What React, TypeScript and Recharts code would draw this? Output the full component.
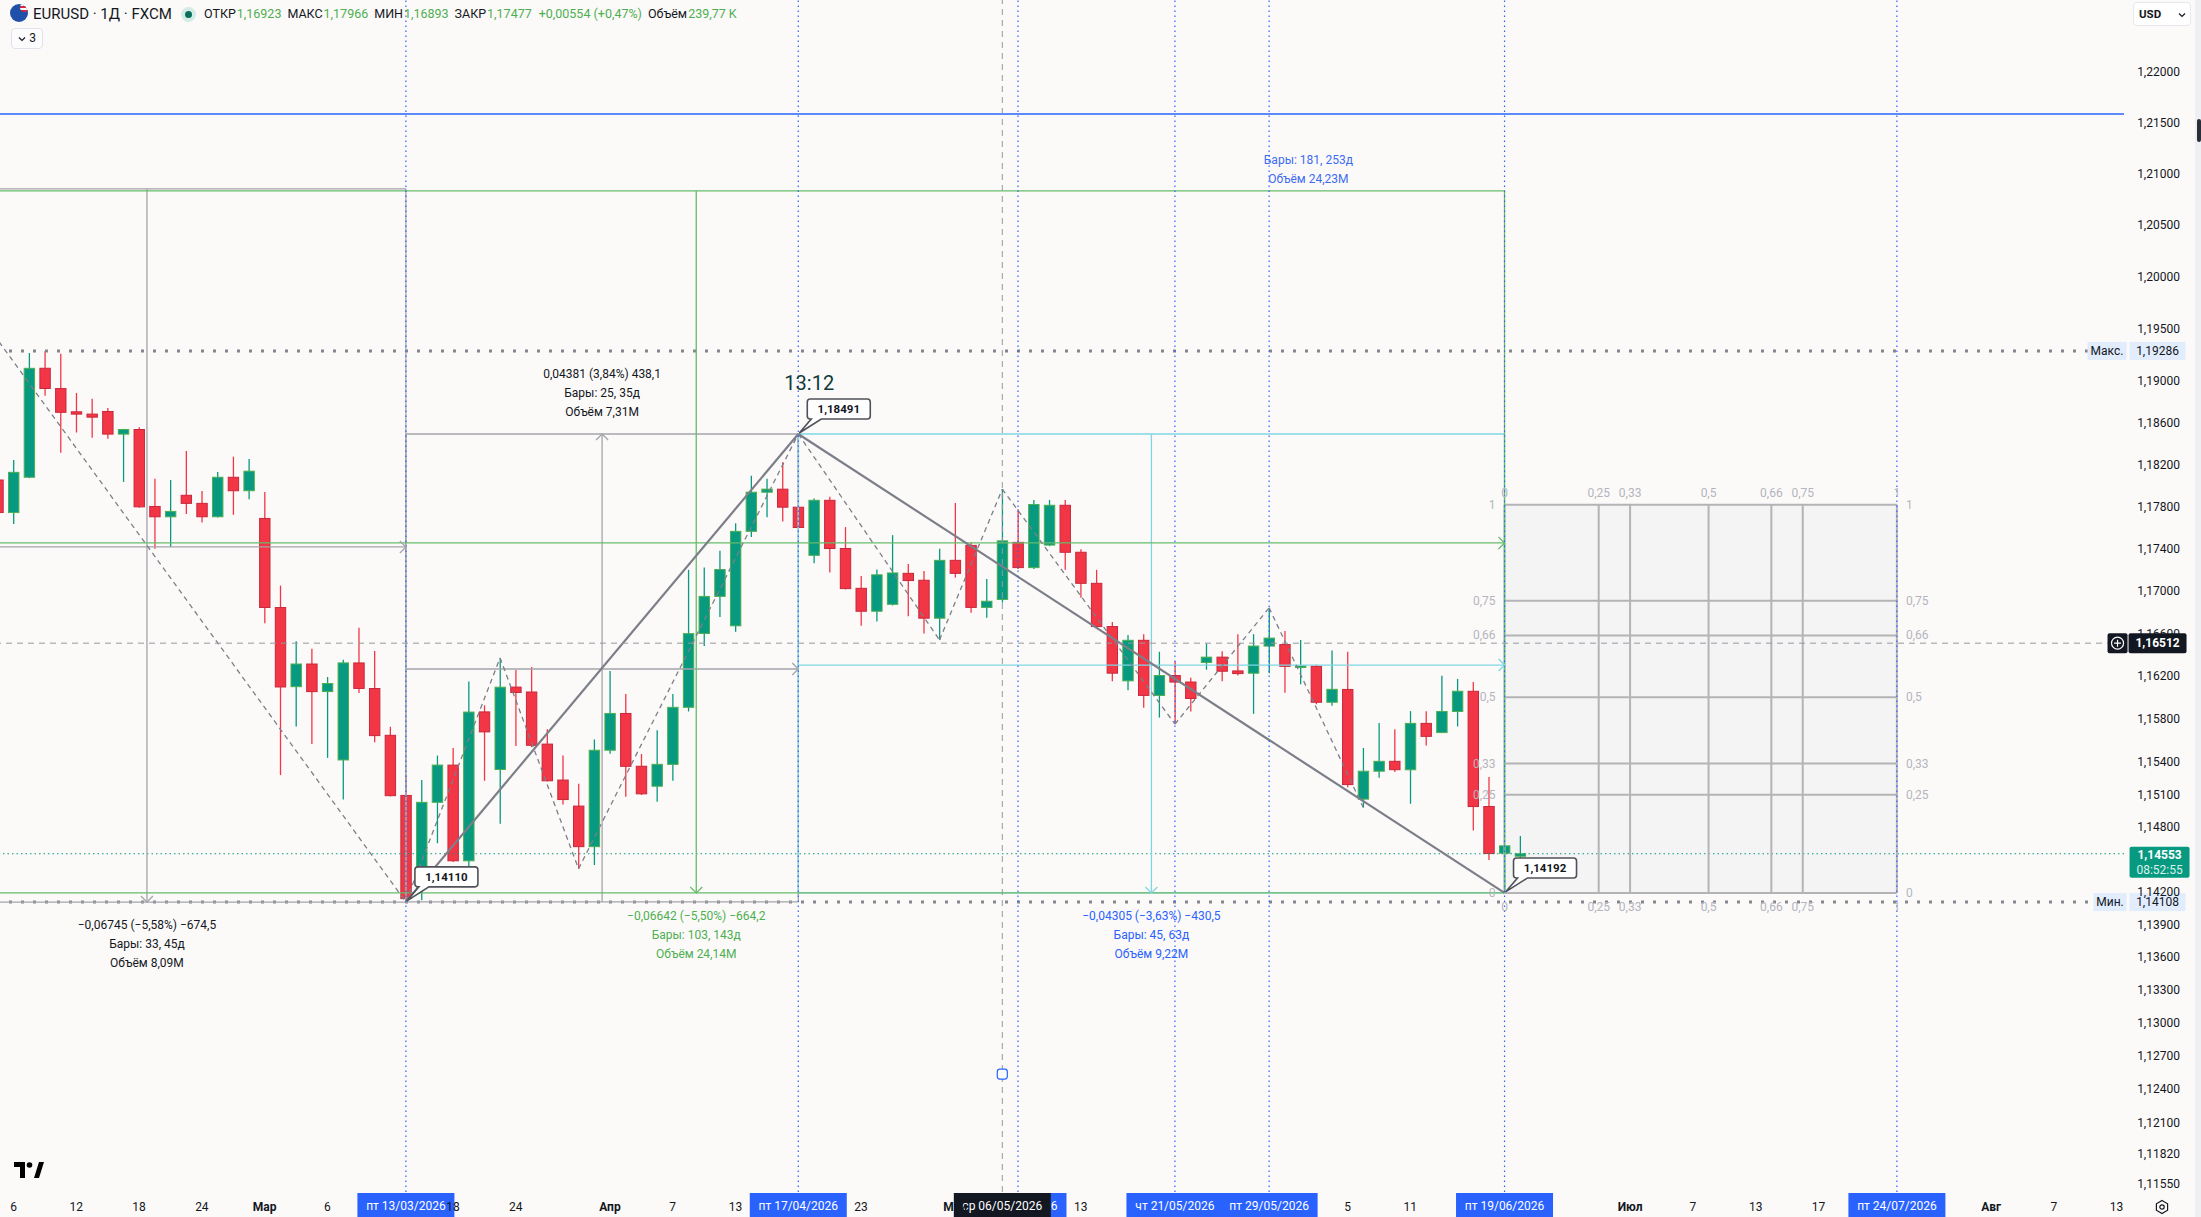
import React from "react";
import { ComposedChart, XAxis, YAxis, Bar, ReferenceLine, ReferenceArea, ReferenceDot } from "recharts";

// trading days, Feb 5 2026 .. Jun 22 2026 (bar index = position - 1)
const DATES = [
  "2026-02-05", "2026-02-06", "2026-02-09", "2026-02-10", "2026-02-11", "2026-02-12", "2026-02-13",
  "2026-02-16", "2026-02-17", "2026-02-18", "2026-02-19", "2026-02-20",
  "2026-02-23", "2026-02-24", "2026-02-25", "2026-02-26", "2026-02-27",
  "2026-03-02", "2026-03-03", "2026-03-04", "2026-03-05", "2026-03-06",
  "2026-03-09", "2026-03-10", "2026-03-11", "2026-03-12", "2026-03-13",
  "2026-03-16", "2026-03-17", "2026-03-18", "2026-03-19", "2026-03-20",
  "2026-03-23", "2026-03-24", "2026-03-25", "2026-03-26", "2026-03-27",
  "2026-03-30", "2026-03-31", "2026-04-01", "2026-04-02", "2026-04-03",
  "2026-04-06", "2026-04-07", "2026-04-08", "2026-04-09", "2026-04-10",
  "2026-04-13", "2026-04-14", "2026-04-15", "2026-04-16", "2026-04-17",
  "2026-04-20", "2026-04-21", "2026-04-22", "2026-04-23", "2026-04-24",
  "2026-04-27", "2026-04-28", "2026-04-29", "2026-04-30", "2026-05-01",
  "2026-05-04", "2026-05-05", "2026-05-06", "2026-05-07", "2026-05-08",
  "2026-05-11", "2026-05-12", "2026-05-13", "2026-05-14", "2026-05-15",
  "2026-05-18", "2026-05-19", "2026-05-20", "2026-05-21", "2026-05-22",
  "2026-05-25", "2026-05-26", "2026-05-27", "2026-05-28", "2026-05-29",
  "2026-06-01", "2026-06-02", "2026-06-03", "2026-06-04", "2026-06-05",
  "2026-06-08", "2026-06-09", "2026-06-10", "2026-06-11", "2026-06-12",
  "2026-06-15", "2026-06-16", "2026-06-17", "2026-06-18", "2026-06-19",
  "2026-06-22",
];

const OPEN = [
  1.18053, 1.17744, 1.18079, 1.1912, 1.18926, 1.18703, 1.18681,
  1.18706, 1.1849, 1.18534, 1.17802, 1.17704,
  1.17908, 1.17831, 1.17704, 1.18079, 1.17951,
  1.17689, 1.16848, 1.16105, 1.16317, 1.16059,
  1.15423, 1.16327, 1.16088, 1.15651, 1.15093,
  1.14245, 1.15029, 1.15374, 1.14488, 1.15869,
  1.15335, 1.16101, 1.16055, 1.15569, 1.15235,
  1.14994, 1.14619, 1.15512, 1.15855, 1.15363,
  1.15178, 1.15381, 1.15912, 1.16603, 1.16952,
  1.16675, 1.17566, 1.17937, 1.17966, 1.17795,
  1.17339, 1.1786, 1.17404, 1.17028, 1.16812,
  1.16877, 1.17169, 1.17104, 1.16747, 1.17292,
  1.17433, 1.16848, 1.16923, 1.17462, 1.17223,
  1.17436, 1.17813, 1.17368, 1.17075, 1.16668,
  1.16159, 1.16539, 1.16023, 1.16209, 1.16148,
  1.16331, 1.16381, 1.16252, 1.16231, 1.16485,
  1.16499, 1.16291, 1.16295, 1.15959, 1.1608,
  1.15058, 1.15317, 1.15409, 1.15331, 1.15762,
  1.15676, 1.15873, 1.16062, 1.1499, 1.14558,
  1.1453,
];

const HIGH = [
  1.18097, 1.18242, 1.19266, 1.19286, 1.1926, 1.18882, 1.18827,
  1.18739, 1.1854, 1.18556, 1.18064, 1.18053,
  1.1833, 1.17948, 1.1813, 1.18275, 1.18253,
  1.1794, 1.17053, 1.16531, 1.1646, 1.16195,
  1.16356, 1.16657, 1.16438, 1.1573, 1.15281,
  1.15235, 1.15462, 1.15533, 1.16152, 1.1593,
  1.16374, 1.1626, 1.16288, 1.15708, 1.15462,
  1.152, 1.15612, 1.16252, 1.16037, 1.15477,
  1.15698, 1.16037, 1.17202, 1.17223, 1.17382,
  1.17642, 1.18093, 1.18064, 1.18221, 1.18491,
  1.17878, 1.17893, 1.17606, 1.17144, 1.17205,
  1.1753, 1.17256, 1.17191, 1.174, 1.17835,
  1.17462, 1.17115, 1.17966, 1.17776, 1.17864,
  1.17864, 1.17864, 1.17397, 1.17202, 1.16711,
  1.16589, 1.16596, 1.16431, 1.16342, 1.16188,
  1.1651, 1.16435, 1.16596, 1.16596, 1.16844,
  1.16625, 1.16542, 1.1631, 1.16442, 1.16431,
  1.15533, 1.15766, 1.15708, 1.15876, 1.15876,
  1.16206, 1.16177, 1.16148, 1.15264, 1.1464,
  1.14717,
];

const LOW = [
  1.17697, 1.17635, 1.1807, 1.18857, 1.18312, 1.18505, 1.18454,
  1.18446, 1.18035, 1.1779, 1.174, 1.17418,
  1.17729, 1.17649, 1.17697, 1.17722, 1.17871,
  1.167, 1.15281, 1.15733, 1.15569, 1.15441,
  1.15054, 1.16045, 1.15587, 1.15083, 1.14108,
  1.14125, 1.1465, 1.14477, 1.14431, 1.15228,
  1.1483, 1.15551, 1.15541, 1.15221, 1.15008,
  1.14414, 1.14449, 1.1548, 1.15079, 1.15097,
  1.15033, 1.15228, 1.15873, 1.16485, 1.16758,
  1.16618, 1.17512, 1.177, 1.1766, 1.17595,
  1.17263, 1.17176, 1.17017, 1.16675, 1.16715,
  1.16866, 1.16765, 1.16603, 1.16542, 1.17129,
  1.16798, 1.16751, 1.16893, 1.17209, 1.17209,
  1.17425, 1.17202, 1.16938, 1.16657, 1.16156,
  1.1607, 1.15908, 1.15816, 1.15755, 1.15873,
  1.16263, 1.16156, 1.16209, 1.15851, 1.16231,
  1.16048, 1.16127, 1.15941, 1.15926, 1.15168,
  1.1498, 1.15257, 1.1531, 1.15015, 1.15555,
  1.15676, 1.15733, 1.14767, 1.14495, 1.14192,
  1.144,
];

const CLOSE = [
  1.17744, 1.18126, 1.1912, 1.18926, 1.18699, 1.18681, 1.18652,
  1.1849, 1.18534, 1.17798, 1.17704, 1.17755,
  1.17831, 1.17704, 1.18079, 1.17951, 1.18137,
  1.16848, 1.16105, 1.16317, 1.16059, 1.16134,
  1.16327, 1.16088, 1.15648, 1.1509, 1.1414,
  1.15029, 1.15374, 1.14488, 1.15869, 1.15683,
  1.16101, 1.16051, 1.15558, 1.15228, 1.15054,
  1.14619, 1.15512, 1.15855, 1.15363, 1.15107,
  1.15381, 1.15912, 1.16603, 1.16952, 1.17205,
  1.17566, 1.17937, 1.17966, 1.17795, 1.17602,
  1.1786, 1.17404, 1.17025, 1.16812, 1.17155,
  1.17173, 1.17101, 1.16747, 1.17292, 1.17169,
  1.16848, 1.16906, 1.17477, 1.17223, 1.1782,
  1.17813, 1.17368, 1.17075, 1.16668, 1.16231,
  1.16539, 1.16023, 1.16209, 1.16148, 1.15994,
  1.16381, 1.16249, 1.16227, 1.16485, 1.1656,
  1.16295, 1.16299, 1.15959, 1.1608, 1.15193,
  1.15317, 1.15409, 1.15331, 1.15762, 1.15641,
  1.15873, 1.16062, 1.1499, 1.14555, 1.14626,
  1.14553,
];

// time axis (bar index, Feb 6 = 0; future bars continue the weekday count)
const TICK_INDEX = [0, 4, 8, 12, 16, 20, 28, 32, 38, 42, 46, 54, 60, 68, 85, 89, 103, 107, 111, 115, 126, 130, 134];
const TICK_LABEL = ["6", "12", "18", "24", "Мар", "6", "18", "24", "Апр", "7", "13", "23", "Май", "13", "5", "11", "Июл", "7", "13", "17", "Авг", "7", "13"];

const PRICE_TICKS = [
  1.22, 1.215, 1.21, 1.205, 1.2, 1.195, 1.19, 1.186, 1.182, 1.178, 1.174, 1.17, 1.166, 1.162,
  1.158, 1.154, 1.151, 1.148, 1.142, 1.139, 1.136, 1.133, 1.13, 1.127, 1.124, 1.121, 1.1182, 1.1155,
];

const MARKED_INDEX = [25, 50, 64, 74, 80, 95, 120];
const MARKED_LABEL = ["пт 13/03/2026", "пт 17/04/2026", "чт 07/05/2026", "чт 21/05/2026", "пт 29/05/2026", "пт 19/06/2026", "пт 24/07/2026"];
const CROSS_INDEX = 63;
const CROSS_LABEL = "ср 06/05/2026";
const CROSS_PRICE = 1.16512;
const LAST_PRICE = 1.14553;
const MAX_PRICE = 1.19286;
const MIN_PRICE = 1.14108;
const ALERT_PRICE = 1.21584;

// legend of the hovered bar (May 6)
const LEGEND_NAMES = ["ОТКР", "МАКС", "МИН", "ЗАКР", "", "Объём"];
const LEGEND_VALUES = ["1,16923", "1,17966", "1,16893", "1,17477", "+0,00554 (+0,47%)", "239,77 K"];

const TREND = [[25, 1.1411], [50, 1.18491], [95, 1.14192]];
const ZIGZAGS = [
  [[-8, 1.20853], [25, 1.14108]],
  [[25, 1.1411], [31, 1.16374], [36, 1.14414], [50, 1.18491]],
  [[50, 1.18491], [59, 1.16542], [63, 1.17966], [74, 1.15755], [80, 1.16844], [86, 1.1498]],
];

// date & price ranges: [from bar, to bar, high, low, middle line]
const RANGES = [
  [-8, 25, 1.20853, 1.14108, 1.17418],
  [25, 50, 1.18491, 1.1411, 1.1627],
  [50, 95, 1.18491, 1.14192, 1.16307],
  [-8, 95, 1.20834, 1.14192, 1.17456],
];
const RANGE_TEXT = [
  ["−0,06745 (−5,58%) −674,5", "Бары: 33, 45д", "Объём 8,09M"],
  ["0,04381 (3,84%) 438,1", "Бары: 25, 35д", "Объём 7,31M"],
  ["−0,04305 (−3,63%) −430,5", "Бары: 45, 63д", "Объём 9,22M"],
  ["−0,06642 (−5,50%) −664,2", "Бары: 103, 143д", "Объём 24,14M"],
];
const RANGE_STYLE = [
  { line: "#a3a5ab", ink: "#131722", arrow: "down", below: true },
  { line: "#a3a5ab", ink: "#131722", arrow: "up", below: false },
  { line: "#7fd6e3", ink: "#2962ff", arrow: "down", below: true },
  { line: "#66bb6a", ink: "#4caf50", arrow: "down", below: true },
];
const DATE_RANGE_TEXT = ["Бары: 181, 253д", "Объём 24,23M"];

// gann box Jun 19 .. Jul 24
const GANN_TIME = [95, 101, 103, 108, 112, 114, 120];
const GANN_PRICE = [1.14192, 1.15098, 1.15388, 1.16005, 1.16585, 1.16911, 1.17817];
const GANN_LABEL = ["0", "0,25", "0,33", "0,5", "0,66", "0,75", "1"];

const CALLOUTS = [[25, 1.1411], [50, 1.18491], [95, 1.14192]];

const FONT = 'Roboto, "Noto Sans", "DejaVu Sans", sans-serif';
const BG = "#fcfaf9";
const INK = "#131722";
const UP = "#089981";
const DOWN = "#f23645";
const SHIFT = 9.54;
const X_DOMAIN = [-1.5, 134.47];
const Y_DOMAIN = [1.11475, 1.22705];

const ROWS = DATES.map((d, k) => ({
  i: k - 1, d, o: OPEN[k], h: HIGH[k], l: LOW[k], c: CLOSE[k], hl: [LOW[k], HIGH[k]],
}));

const fmt = (v: number) => v.toFixed(5).replace(".", ",");

const Candle = (props: any) => {
  const { x, y, width, height, payload } = props;
  if (!payload || !isFinite(y)) return null;
  const cx = x + width / 2;
  const { o, h, l, c } = payload;
  const k = h > l ? height / (h - l) : 0;
  const py = (v: number) => y + (h - v) * k;
  const up = c >= o;
  const top = py(Math.max(o, c));
  const bot = py(Math.min(o, c));
  return (
    <g>
      <line x1={cx} x2={cx} y1={y} y2={y + height} stroke={up ? UP : DOWN} strokeWidth={1.3} />
      <rect x={cx - 5.2} y={top} width={10.4} height={Math.max(bot - top, 1.6)}
        fill={up ? UP : DOWN} stroke={up ? "#4caf50" : "#c8283c"} strokeWidth={1} />
    </g>
  );
};

const XTick = (props: any) => {
  const { x, payload } = props;
  const k = TICK_INDEX.indexOf(payload.value);
  if (k < 0) return null;
  const t = TICK_LABEL[k];
  const month = /[А-Яа-я]/.test(t);
  return (
    <text x={x} y={1207} textAnchor="middle" dominantBaseline="central" fontSize={12}
      fontWeight={month ? 700 : 400} fill={INK}>{t}</text>
  );
};

const YTick = (props: any) => (
  <text x={2159 + SHIFT} y={props.y} textAnchor="middle" dominantBaseline="central" fontSize={12} fill={INK}>
    {fmt(props.payload.value)}
  </text>
);

const seg = (key: string, a: number[], b: number[], stroke: string, w = 1.3, dash?: string) => (
  <ReferenceLine key={key} segment={[{ x: a[0], y: a[1] }, { x: b[0], y: b[1] }]} stroke={stroke}
    strokeWidth={w} strokeDasharray={dash} ifOverflow="hidden" />
);

const note = (key: string, x: number, y: number, draw: (cx: number, cy: number) => any) => (
  <ReferenceDot key={key} x={x} y={y} r={1} fill="none" stroke="none" ifOverflow="visible"
    shape={(p: any) => draw(p.cx, p.cy)} />
);

const chevron = (dir: string, color: string) => (cx: number, cy: number) => {
  const s = 6;
  const d = dir === "right" ? `M${cx - s},${cy - s}L${cx},${cy}L${cx - s},${cy + s}`
    : dir === "down" ? `M${cx - s},${cy - s}L${cx},${cy}L${cx + s},${cy - s}`
    : `M${cx - s},${cy + s}L${cx},${cy}L${cx + s},${cy + s}`;
  return <path d={d} fill="none" stroke={color} strokeWidth={1.3} />;
};

const lines = (texts: string[], color: string, dy: number, step = 19) => (cx: number, cy: number) => (
  <g>
    {texts.map((t, j) => (
      <text key={j} x={cx} y={cy + dy + j * step} textAnchor="middle" dominantBaseline="central"
        fontSize={12} fill={color}>{t}</text>
    ))}
  </g>
);

const callout = (text: string) => (cx: number, cy: number) => {
  const x0 = cx + 9, y0 = cy - 35, x1 = x0 + 63, y1 = cy - 15;
  const d = `M${x0 + 3},${y0}H${x1 - 3}Q${x1},${y0} ${x1},${y0 + 3}V${y1 - 3}Q${x1},${y1} ${x1 - 3},${y1}` +
    `H${x0 + 14}L${cx + 1},${cy - 1}L${x0 + 4},${y1}H${x0 + 3}Q${x0},${y1} ${x0},${y1 - 3}V${y0 + 3}Q${x0},${y0} ${x0 + 3},${y0}Z`;
  return (
    <g>
      <path d={d} fill="#ffffff" stroke="#505259" strokeWidth={1.6} />
      <text x={x0 + 31.5} y={y0 + 10.5} textAnchor="middle" dominantBaseline="central" fontSize={11.5}
        fontWeight={700} fill={INK}>{text}</text>
    </g>
  );
};

const axisBox = (label: string, dark: boolean) => (cx: number, cy: number) => (
  <g>
    <rect x={cx - 48.5} y={cy + 1} width={97} height={24} fill={dark ? "#131722" : "#2962ff"} />
    <text x={cx} y={cy + 13.5} textAnchor="middle" dominantBaseline="central" fontSize={12} fill="#ffffff">{label}</text>
  </g>
);

const priceTag = (label: string, value: number) => (_cx: number, cy: number) => {
  const w = label.length > 4 ? 40 : 34;
  const x0 = 2128 + SHIFT;
  return (
    <g>
      <rect x={x0 - w} y={cy - 9} width={w - 1} height={18} fill="#e1ecfd" />
      <text x={x0 - w / 2 - 0.5} y={cy} textAnchor="middle" dominantBaseline="central" fontSize={12} fill={INK}>{label}</text>
      <rect x={x0 + 2} y={cy - 9} width={56} height={18} fill="#e1ecfd" />
      <text x={x0 + 30} y={cy} textAnchor="middle" dominantBaseline="central" fontSize={12} fill={INK}>{fmt(value)}</text>
    </g>
  );
};

export default function App() {
  const els: any[] = [];

  // horizontal price lines
  els.push(<ReferenceLine key="alert" y={ALERT_PRICE} stroke="#2962ff" strokeWidth={1.5} ifOverflow="hidden" />);
  els.push(<ReferenceLine key="max" y={MAX_PRICE} stroke="#83868e" strokeWidth={3} strokeDasharray="3 9" ifOverflow="hidden" />);
  els.push(<ReferenceLine key="min" y={MIN_PRICE} stroke="#83868e" strokeWidth={3} strokeDasharray="3 9" ifOverflow="hidden" />);
  els.push(<ReferenceLine key="last" y={LAST_PRICE} stroke={UP} strokeWidth={1} strokeDasharray="1.5 3" ifOverflow="hidden" />);

  // gann box grid
  GANN_PRICE.forEach((p, j) => els.push(seg(`gh${j}`, [GANN_TIME[0], p], [GANN_TIME[6], p], "#b4b4b6", 2)));
  GANN_TIME.forEach((t, j) => els.push(seg(`gv${j}`, [t, GANN_PRICE[0]], [t, GANN_PRICE[6]], "#b4b4b6", 2)));

  // date & price ranges
  RANGES.forEach((r, j) => {
    const [a, b, hi, lo, mid] = r;
    const st = RANGE_STYLE[j];
    const m = (a + b) / 2;
    els.push(seg(`rt${j}`, [a, hi], [b, hi], st.line));
    els.push(seg(`rb${j}`, [a, lo], [b, lo], st.line));
    els.push(seg(`rl${j}`, [a, hi], [a, lo], st.line));
    els.push(seg(`rr${j}`, [b, hi], [b, lo], st.line));
    els.push(seg(`rv${j}`, [m, hi], [m, lo], st.line));
    els.push(seg(`rm${j}`, [a, mid], [b, mid], st.line));
  });

  // zigzags and trend lines
  ZIGZAGS.forEach((z, j) => z.slice(1).forEach((p, k) => els.push(seg(`z${j}_${k}`, z[k], p, "#7c7f88", 1.3, "5 4"))));
  TREND.slice(1).forEach((p, k) => els.push(seg(`t${k}`, TREND[k], p, "#7c7f88", 2.2)));

  // crosshair and marked dates
  els.push(<ReferenceLine key="chh" y={CROSS_PRICE} stroke="#9598a1" strokeWidth={1} strokeDasharray="6 5" ifOverflow="hidden" />);
  MARKED_INDEX.forEach((i, j) => els.push(
    <ReferenceLine key={`mk${j}`} x={i} stroke="#2962ff" strokeWidth={1.2} strokeDasharray="1.5 3.5" ifOverflow="hidden" />
  ));
  els.push(<ReferenceLine key="chv" x={CROSS_INDEX} stroke="#9598a1" strokeWidth={1} strokeDasharray="6 5" ifOverflow="hidden" />);

  const notes: any[] = [];
  RANGES.forEach((r, j) => {
    const [a, b, hi, lo, mid] = r;
    const st = RANGE_STYLE[j];
    const m = (a + b) / 2;
    notes.push(note(`ra${j}`, b, mid, chevron("right", st.line)));
    notes.push(note(`rv${j}`, m, st.arrow === "up" ? hi : lo, chevron(st.arrow, st.line)));
    notes.push(st.below
      ? note(`rx${j}`, m, lo, lines(RANGE_TEXT[j], st.ink, 23))
      : note(`rx${j}`, m, hi, lines(RANGE_TEXT[j], st.ink, -60)));
  });
  notes.push(note("dr", 82.5, 1.21137, lines(DATE_RANGE_TEXT, "#3d6df2", 0)));

  GANN_TIME.forEach((t, j) => {
    notes.push(note(`gt${j}`, t, GANN_PRICE[6], (cx, cy) => (
      <text x={cx} y={cy - 12} textAnchor="middle" dominantBaseline="central" fontSize={12} fill="#b2b5be">{GANN_LABEL[j]}</text>)));
    notes.push(note(`gb${j}`, t, GANN_PRICE[0], (cx, cy) => (
      <text x={cx} y={cy + 14} textAnchor="middle" dominantBaseline="central" fontSize={12} fill="#b2b5be">{GANN_LABEL[j]}</text>)));
  });
  GANN_PRICE.forEach((p, j) => {
    notes.push(note(`gl${j}`, GANN_TIME[0], p, (cx, cy) => (
      <text x={cx - 9} y={cy} textAnchor="end" dominantBaseline="central" fontSize={12} fill="#b2b5be">{GANN_LABEL[j]}</text>)));
    notes.push(note(`gr${j}`, GANN_TIME[6], p, (cx, cy) => (
      <text x={cx + 9} y={cy} textAnchor="start" dominantBaseline="central" fontSize={12} fill="#b2b5be">{GANN_LABEL[j]}</text>)));
  });

  CALLOUTS.forEach((c, j) => notes.push(note(`co${j}`, c[0], c[1], callout(fmt(c[1])))));
  notes.push(note("ratio", 50, 1.18491, (cx, cy) => (
    <text x={cx + 11} y={cy - 51} textAnchor="middle" dominantBaseline="central" fontSize={20} fill="#0f3a3a">13:12</text>)));
  notes.push(note("cursor", CROSS_INDEX, 1.12539, (cx, cy) => (
    <rect x={cx - 5} y={cy - 5} width={10} height={10} rx={2.5} fill="#ffffff" stroke="#2962ff" strokeWidth={1.2} />)));

  // time axis highlights
  MARKED_INDEX.forEach((i, j) => notes.push(note(`mb${j}`, i, Y_DOMAIN[0], axisBox(MARKED_LABEL[j], false))));
  notes.push(note("cb", CROSS_INDEX, Y_DOMAIN[0], axisBox(CROSS_LABEL, true)));

  // price axis tags
  notes.push(note("pmax", X_DOMAIN[1], MAX_PRICE, priceTag("Макс.", MAX_PRICE)));
  notes.push(note("pmin", X_DOMAIN[1], MIN_PRICE, priceTag("Мин.", MIN_PRICE)));
  notes.push(note("plast", X_DOMAIN[1], LAST_PRICE, (_cx, cy) => (
    <g>
      <rect x={2130 + SHIFT} y={cy - 7} width={60} height={31} rx={2} fill={UP} />
      <text x={2160 + SHIFT} y={cy + 1.5} textAnchor="middle" dominantBaseline="central" fontSize={12} fontWeight={700} fill="#ffffff">{fmt(LAST_PRICE)}</text>
      <text x={2160 + SHIFT} y={cy + 16} textAnchor="middle" dominantBaseline="central" fontSize={12} fill="#d9f2ee">08:52:55</text>
    </g>
  )));
  notes.push(note("pcross", X_DOMAIN[1], CROSS_PRICE, (_cx, cy) => (
    <g>
      <rect x={2108 + SHIFT} y={cy - 10} width={20} height={20} rx={2} fill={INK} />
      <circle cx={2118 + SHIFT} cy={cy} r={6} fill="none" stroke="#ffffff" strokeWidth={1.2} />
      <path d={`M${2114.5 + SHIFT},${cy}H${2121.5 + SHIFT}M${2118 + SHIFT},${cy - 3.5}V${cy + 3.5}`} stroke="#ffffff" strokeWidth={1.2} />
      <rect x={2129 + SHIFT} y={cy - 10} width={58} height={20} rx={2} fill={INK} />
      <text x={2158 + SHIFT} y={cy} textAnchor="middle" dominantBaseline="central" fontSize={12} fontWeight={700} fill="#ffffff">{fmt(CROSS_PRICE)}</text>
    </g>
  )));

  const GREEN = "#4caf50";

  return (
    <div style={{ position: "absolute", left: 0, top: 0, width: 2201, height: 1217, overflow: "hidden", background: BG, fontFamily: FONT }}>
      <div style={{ position: "absolute", left: -SHIFT, top: 0 }}>
        <ComposedChart width={2211} height={1217} data={ROWS} margin={{ top: 0, right: 0, bottom: 0, left: 0 }}>
          <ReferenceArea x1={95} x2={120} y1={1.14192} y2={1.17817} fill="#f4f4f5" fillOpacity={1} stroke="none" ifOverflow="visible" />
          <XAxis dataKey="i" type="number" domain={X_DOMAIN} allowDataOverflow ticks={TICK_INDEX} interval={0}
            tickLine={false} axisLine={false} height={25} tick={<XTick />} />
          <YAxis orientation="right" type="number" scale="log" domain={Y_DOMAIN} allowDataOverflow ticks={PRICE_TICKS}
            interval={0} tickLine={false} axisLine={false} width={77} tick={<YTick />} />
          <Bar dataKey="hl" shape={<Candle />} barSize={10} isAnimationActive={false} />
          {els}
          {notes}
        </ComposedChart>
      </div>

      {/* legend header */}
      <div style={{ position: "absolute", left: 10, top: 4, width: 18, height: 18, borderRadius: 9, background: "#2050a8", overflow: "hidden" }}>
        <div style={{ position: "absolute", right: -1, top: -1, width: 9, height: 9, borderRadius: 5, background: "repeating-linear-gradient(0deg,#d7263d 0 2px,#ffffff 2px 4px)" }} />
      </div>
      <div style={{ position: "absolute", left: 33, top: 4, fontSize: 15, lineHeight: "20px", color: INK, whiteSpace: "nowrap" }}>EURUSD · 1Д · FXCM</div>
      <div style={{ position: "absolute", left: 181, top: 6.5, width: 15, height: 15, borderRadius: 8, background: "#d4ebe6" }}>
        <div style={{ position: "absolute", left: 4, top: 4, width: 7, height: 7, borderRadius: 4, background: "#0b6e5d" }} />
      </div>
      <div style={{ position: "absolute", left: 204, top: 6, display: "flex", fontSize: 12.5, lineHeight: "16px", whiteSpace: "nowrap" }}>
        {LEGEND_NAMES.map((n, j) => (
          <span key={j} style={{ marginRight: 6 }}>
            <span style={{ color: INK, marginRight: 1 }}>{n}</span>
            <span style={{ color: GREEN }}>{LEGEND_VALUES[j]}</span>
          </span>
        ))}
      </div>
      <div style={{ position: "absolute", left: 11, top: 28, width: 30, height: 19, border: "1px solid #e0e3eb", borderRadius: 4, background: "#fdfcfc", fontSize: 12, lineHeight: "19px", color: INK, textAlign: "center" }}>
        <svg width="8" height="6" style={{ marginRight: 3, verticalAlign: "middle" }}><path d="M1 1.5L4 4.5L7 1.5" fill="none" stroke={INK} strokeWidth="1.2" /></svg>3
      </div>

      {/* currency selector and right edge */}
      <div style={{ position: "absolute", left: 2133, top: 2, width: 56, height: 22, border: "1px solid #e6e8ee", borderRadius: 4, background: "#ffffff", fontSize: 11.5, lineHeight: "22px", color: INK, fontWeight: 700 }}>
        <span style={{ position: "absolute", left: 5 }}>USD</span>
        <svg width="8" height="6" style={{ position: "absolute", left: 44, top: 9 }}><path d="M1 1.5L4 4.5L7 1.5" fill="none" stroke={INK} strokeWidth="1.2" /></svg>
      </div>
      <div style={{ position: "absolute", left: 2195, top: 0, width: 6, height: 1217, background: "#eeeff2" }} />
      <div style={{ position: "absolute", left: 2197, top: 119, width: 4, height: 23, borderRadius: 2, background: "#2a2e39" }} />

      {/* logo and settings */}
      <svg style={{ position: "absolute", left: 14, top: 1162 }} width="30" height="16">
        <path d="M0 0H11V16H6V5H0Z" fill="#000000" />
        <circle cx="15.5" cy="3" r="2.8" fill="#000000" />
        <path d="M20 16L25 0H30L25 16Z" fill="#000000" />
      </svg>
      <svg style={{ position: "absolute", left: 2154, top: 1199 }} width="16" height="16">
        <path d="M8 1.5L13.6 4.75V11.25L8 14.5L2.4 11.25V4.75Z" fill="none" stroke={INK} strokeWidth="1.2" />
        <circle cx="8" cy="8" r="2.2" fill="none" stroke={INK} strokeWidth="1.2" />
      </svg>
    </div>
  );
}
